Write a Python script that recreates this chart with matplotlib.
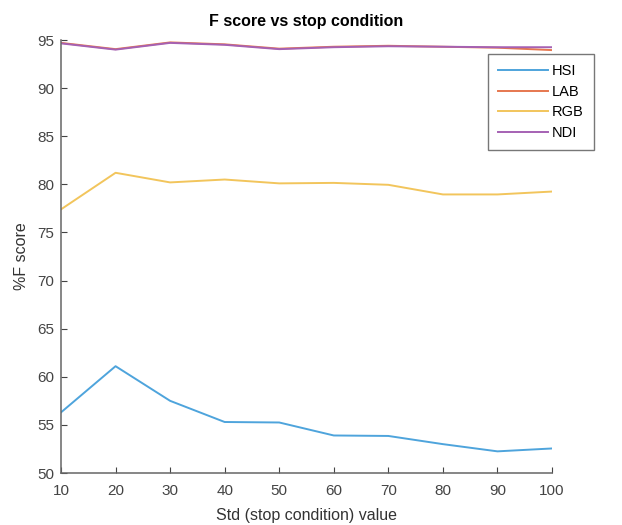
import matplotlib
matplotlib.use("Agg")
import matplotlib.pyplot as plt

plt.rcParams["font.family"] = ["Liberation Sans", "DejaVu Sans"]

std_values = [10, 20, 30, 40, 50, 60, 70, 80, 90, 100]
hsi = [56.3, 61.1, 57.5, 55.3, 55.25, 53.9, 53.85, 53.0, 52.25, 52.55]
lab = [94.7, 94.05, 94.75, 94.55, 94.1, 94.3, 94.4, 94.3, 94.2, 93.95]
rgb = [77.4, 81.2, 80.2, 80.5, 80.1, 80.15, 79.95, 78.95, 78.95, 79.25]
ndi = [94.65, 94.0, 94.7, 94.5, 94.05, 94.25, 94.35, 94.3, 94.25, 94.25]

series = [("HSI", hsi, "#4ea4dc"), ("LAB", lab, "#e6774f"),
          ("RGB", rgb, "#f2c55c"), ("NDI", ndi, "#a561b3")]

fig = plt.figure(figsize=(6.22, 5.25), dpi=100)
left, right, bottom, top = 61 / 622, 552 / 622, 1 - 473 / 525, 1 - 40 / 525
ax = fig.add_axes([left, bottom, right - left, top - bottom])

for name, vals, col in series:
    ax.plot(std_values, vals, color=col, lw=1.4, label=name)

ax.set_xlim(10, 100)
ax.set_ylim(50, 95)
ax.set_xticks(std_values)
ax.set_yticks(range(50, 96, 5))
ax.spines["top"].set_visible(False)
ax.spines["right"].set_visible(False)
for s in ("left", "bottom"):
    ax.spines[s].set_color("#666666")
    ax.spines[s].set_linewidth(1.1)
ax.tick_params(direction="in", length=4, labelsize=11, colors="#444444")
ax.tick_params(axis="x", pad=8)
ax.tick_params(axis="y", pad=5)

ax.set_xlabel("Std (stop condition) value", fontsize=11.5, color="#333333", labelpad=7)
ax.set_ylabel("%F score", fontsize=11.5, color="#333333", labelpad=6)
ax.set_title("F score vs stop condition", fontsize=11.5, fontweight="bold", pad=10)

leg = ax.legend(loc="upper left", bbox_to_anchor=(488 / 622, 1 - 54 / 525),
                bbox_transform=fig.transFigure, fontsize=10.5, frameon=True,
                fancybox=False, edgecolor="#555555", handlelength=3.4,
                labelspacing=0.45, borderpad=0.7, handletextpad=0.3,
                borderaxespad=0)
leg.get_frame().set_linewidth(1.0)

fig.savefig("out.png", dpi=100)
